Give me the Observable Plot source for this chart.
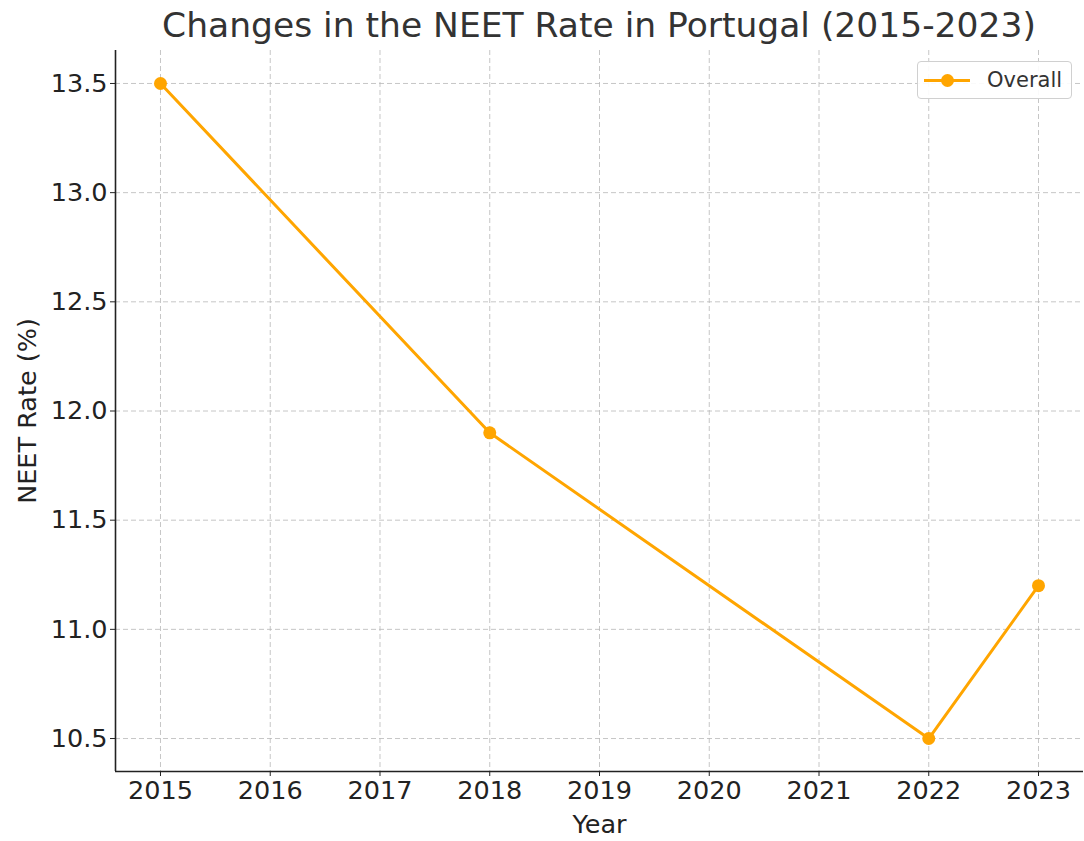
<!DOCTYPE html>
<html>
<head>
<meta charset="utf-8">
<script src="https://cdn.jsdelivr.net/npm/d3@7"></script>
<script src="https://cdn.jsdelivr.net/npm/@observablehq/plot@0.6"></script>
<style>
  body { margin: 0; background: #fff; font-family: "DejaVu Sans", sans-serif; }
  #wrap { position: relative; width: 1084px; height: 841px; }
  #title { position: absolute; left: 115px; width: 968px; top: 3px; text-align: center; font-size: 34.5px; color: #333; line-height: 44px; white-space: nowrap; }
  #chart { position: absolute; left: 0; top: 48px; }
  #legend { position: absolute; left: 917px; top: 61px; width: 155px; height: 38px; border: 1px solid #d0d0d0; border-radius: 4px; background: rgba(255,255,255,0.9); box-sizing: border-box; }
  #legend .ln { position: absolute; left: 6px; top: 16.5px; width: 46px; height: 3px; background: #FFA500; }
  #legend .dt { position: absolute; left: 22.5px; top: 11.5px; width: 13px; height: 13px; border-radius: 50%; background: #FFA500; }
  #legend .tx { position: absolute; left: 69px; top: 5px; font-size: 21px; color: #333; line-height: 26px; }
</style>
</head>
<body>
<div id="wrap">
  <div id="title">Changes in the NEET Rate in Portugal (2015-2023)</div>
  <div id="chart"></div>
  <div id="legend"><div class="ln"></div><div class="dt"></div><div class="tx">Overall</div></div>
</div>
<script>
const years = [2015, 2018, 2022, 2023];
const rates = [13.5, 11.9, 10.5, 11.2];
const xTicks = [2015, 2016, 2017, 2018, 2019, 2020, 2021, 2022, 2023];
const yTicks = [10.5, 11.0, 11.5, 12.0, 12.5, 13.0, 13.5];
const xDomain = [2014.59, 2023.41];
const yDomain = [10.349, 13.651];

const data = years.map((y, i) => ({year: y, rate: rates[i]}));
const orange = "#FFA500";

const chart = Plot.plot({
  width: 1084,
  height: 793,
  marginTop: 2,
  marginBottom: 70,
  marginLeft: 115,
  marginRight: 1,
  style: {fontFamily: "DejaVu Sans, sans-serif", color: "#222", background: "#fff"},
  x: {domain: xDomain, type: "linear"},
  y: {domain: yDomain, type: "linear"},
  marks: [
    Plot.gridX(xTicks, {stroke: "#b8b8b8", strokeOpacity: 1, strokeDasharray: "5,3", strokeWidth: 0.8}),
    Plot.gridY(yTicks, {stroke: "#b8b8b8", strokeOpacity: 1, strokeDasharray: "5,3", strokeWidth: 0.8}),
    Plot.ruleX([xDomain[0]], {stroke: "#222", strokeWidth: 1.6}),
    Plot.ruleY([yDomain[0]], {stroke: "#222", strokeWidth: 1.6}),
    Plot.axisX(xTicks, {tickFormat: "d", tickSize: 5, tickPadding: 4, fontSize: 25.5, label: null, stroke: "#222", fill: "#222"}),
    Plot.axisY(yTicks, {tickFormat: ".1f", tickSize: 5, tickPadding: 3, fontSize: 25.5, label: null, stroke: "#222", fill: "#222"}),
    Plot.text(["Year"], {frameAnchor: "bottom", dy: 53, fontSize: 25.5, fill: "#222", lineAnchor: "middle"}),
    Plot.text(["NEET Rate (%)"], {frameAnchor: "left", dx: -88, rotate: -90, textAnchor: "middle", fontSize: 25.5, fill: "#222", lineAnchor: "middle"}),
    Plot.line(data, {x: "year", y: "rate", stroke: orange, strokeWidth: 3}),
    Plot.dot(data, {x: "year", y: "rate", fill: orange, r: 6.5})
  ]
});
document.getElementById("chart").appendChild(chart);
</script>
</body>
</html>
